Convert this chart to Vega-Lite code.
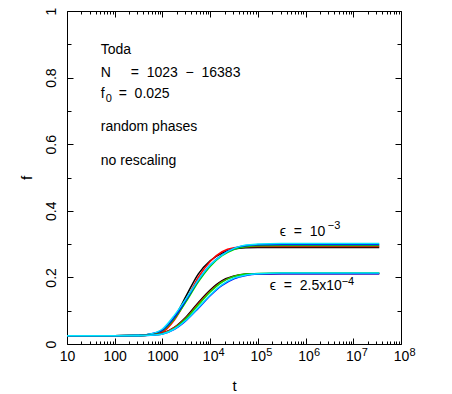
{
  "$schema": "https://vega.github.io/schema/vega-lite/v6.json",
  "autosize": "none",
  "width": 334,
  "height": 333,
  "padding": {"left": 67, "top": 11, "right": 51, "bottom": 50},
  "background": "white",
  "config": {
    "view": {"stroke": null},
    "font": "Liberation Sans",
    "axis": {
      "domainColor": "black",
      "domainWidth": 1,
      "tickColor": "black",
      "tickWidth": 1,
      "grid": false,
      "labelFont": "Liberation Sans",
      "labelFontSize": 14,
      "labelColor": "black",
      "titleFont": "Liberation Sans",
      "titleFontSize": 15,
      "titleFontWeight": "normal",
      "titleColor": "black",
      "labelOverlap": false,
      "labelFlush": false
    }
  },
  "layer": [
    {
      "data": {
        "values": [
          {"t":10,"f":0.025,"s":"k1"},{"t":100,"f":0.025,"s":"k1"},{"t":316,"f":0.026,"s":"k1"},{"t":562,"f":0.029,"s":"k1"},{"t":1000,"f":0.040,"s":"k1"},{"t":1778,"f":0.080,"s":"k1"},{"t":3162,"f":0.145,"s":"k1"},{"t":5623,"f":0.210,"s":"k1"},{"t":10000,"f":0.250,"s":"k1"},{"t":17783,"f":0.273,"s":"k1"},{"t":31623,"f":0.285,"s":"k1"},{"t":56234,"f":0.289,"s":"k1"},{"t":100000,"f":0.290,"s":"k1"},{"t":316228,"f":0.290,"s":"k1"},{"t":1000000,"f":0.290,"s":"k1"},{"t":35000000,"f":0.290,"s":"k1"},
          {"t":10,"f":0.025,"s":"r1"},{"t":100,"f":0.025,"s":"r1"},{"t":316,"f":0.026,"s":"r1"},{"t":562,"f":0.028,"s":"r1"},{"t":1000,"f":0.036,"s":"r1"},{"t":1778,"f":0.072,"s":"r1"},{"t":3162,"f":0.132,"s":"r1"},{"t":5623,"f":0.200,"s":"r1"},{"t":10000,"f":0.248,"s":"r1"},{"t":17783,"f":0.277,"s":"r1"},{"t":31623,"f":0.289,"s":"r1"},{"t":56234,"f":0.292,"s":"r1"},{"t":100000,"f":0.293,"s":"r1"},{"t":316228,"f":0.293,"s":"r1"},{"t":1000000,"f":0.293,"s":"r1"},{"t":35000000,"f":0.293,"s":"r1"},
          {"t":10,"f":0.025,"s":"g1"},{"t":100,"f":0.025,"s":"g1"},{"t":316,"f":0.026,"s":"g1"},{"t":562,"f":0.029,"s":"g1"},{"t":1000,"f":0.040,"s":"g1"},{"t":1778,"f":0.076,"s":"g1"},{"t":3162,"f":0.128,"s":"g1"},{"t":5623,"f":0.186,"s":"g1"},{"t":10000,"f":0.233,"s":"g1"},{"t":17783,"f":0.265,"s":"g1"},{"t":31623,"f":0.284,"s":"g1"},{"t":56234,"f":0.292,"s":"g1"},{"t":100000,"f":0.295,"s":"g1"},{"t":316228,"f":0.296,"s":"g1"},{"t":1000000,"f":0.296,"s":"g1"},{"t":35000000,"f":0.296,"s":"g1"},
          {"t":10,"f":0.025,"s":"b1"},{"t":100,"f":0.025,"s":"b1"},{"t":316,"f":0.026,"s":"b1"},{"t":562,"f":0.030,"s":"b1"},{"t":1000,"f":0.042,"s":"b1"},{"t":1778,"f":0.080,"s":"b1"},{"t":3162,"f":0.133,"s":"b1"},{"t":5623,"f":0.191,"s":"b1"},{"t":10000,"f":0.237,"s":"b1"},{"t":17783,"f":0.268,"s":"b1"},{"t":31623,"f":0.287,"s":"b1"},{"t":56234,"f":0.295,"s":"b1"},{"t":100000,"f":0.298,"s":"b1"},{"t":316228,"f":0.299,"s":"b1"},{"t":1000000,"f":0.299,"s":"b1"},{"t":35000000,"f":0.299,"s":"b1"},
          {"t":10,"f":0.025,"s":"c1"},{"t":100,"f":0.025,"s":"c1"},{"t":316,"f":0.026,"s":"c1"},{"t":562,"f":0.030,"s":"c1"},{"t":1000,"f":0.045,"s":"c1"},{"t":1778,"f":0.086,"s":"c1"},{"t":3162,"f":0.137,"s":"c1"},{"t":5623,"f":0.192,"s":"c1"},{"t":10000,"f":0.237,"s":"c1"},{"t":17783,"f":0.267,"s":"c1"},{"t":31623,"f":0.287,"s":"c1"},{"t":56234,"f":0.297,"s":"c1"},{"t":100000,"f":0.300,"s":"c1"},{"t":316228,"f":0.302,"s":"c1"},{"t":1000000,"f":0.302,"s":"c1"},{"t":35000000,"f":0.302,"s":"c1"},
          {"t":10,"f":0.025,"s":"k2"},{"t":100,"f":0.025,"s":"k2"},{"t":316,"f":0.025,"s":"k2"},{"t":562,"f":0.027,"s":"k2"},{"t":1000,"f":0.032,"s":"k2"},{"t":1778,"f":0.050,"s":"k2"},{"t":3162,"f":0.082,"s":"k2"},{"t":5623,"f":0.124,"s":"k2"},{"t":10000,"f":0.162,"s":"k2"},{"t":17783,"f":0.190,"s":"k2"},{"t":31623,"f":0.204,"s":"k2"},{"t":56234,"f":0.210,"s":"k2"},{"t":100000,"f":0.211,"s":"k2"},{"t":316228,"f":0.212,"s":"k2"},{"t":1000000,"f":0.212,"s":"k2"},{"t":35000000,"f":0.212,"s":"k2"},
          {"t":10,"f":0.025,"s":"r2"},{"t":100,"f":0.025,"s":"r2"},{"t":316,"f":0.025,"s":"r2"},{"t":562,"f":0.027,"s":"r2"},{"t":1000,"f":0.032,"s":"r2"},{"t":1778,"f":0.049,"s":"r2"},{"t":3162,"f":0.079,"s":"r2"},{"t":5623,"f":0.120,"s":"r2"},{"t":10000,"f":0.158,"s":"r2"},{"t":17783,"f":0.187,"s":"r2"},{"t":31623,"f":0.203,"s":"r2"},{"t":56234,"f":0.209,"s":"r2"},{"t":100000,"f":0.211,"s":"r2"},{"t":316228,"f":0.212,"s":"r2"},{"t":1000000,"f":0.212,"s":"r2"},{"t":35000000,"f":0.212,"s":"r2"},
          {"t":10,"f":0.025,"s":"g2"},{"t":100,"f":0.025,"s":"g2"},{"t":316,"f":0.025,"s":"g2"},{"t":562,"f":0.027,"s":"g2"},{"t":1000,"f":0.031,"s":"g2"},{"t":1778,"f":0.047,"s":"g2"},{"t":3162,"f":0.077,"s":"g2"},{"t":5623,"f":0.117,"s":"g2"},{"t":10000,"f":0.156,"s":"g2"},{"t":17783,"f":0.186,"s":"g2"},{"t":31623,"f":0.203,"s":"g2"},{"t":56234,"f":0.210,"s":"g2"},{"t":100000,"f":0.212,"s":"g2"},{"t":316228,"f":0.213,"s":"g2"},{"t":1000000,"f":0.213,"s":"g2"},{"t":35000000,"f":0.213,"s":"g2"},
          {"t":10,"f":0.025,"s":"b2"},{"t":100,"f":0.025,"s":"b2"},{"t":316,"f":0.025,"s":"b2"},{"t":562,"f":0.026,"s":"b2"},{"t":1000,"f":0.030,"s":"b2"},{"t":1778,"f":0.044,"s":"b2"},{"t":3162,"f":0.071,"s":"b2"},{"t":5623,"f":0.107,"s":"b2"},{"t":10000,"f":0.145,"s":"b2"},{"t":17783,"f":0.176,"s":"b2"},{"t":31623,"f":0.196,"s":"b2"},{"t":56234,"f":0.206,"s":"b2"},{"t":100000,"f":0.210,"s":"b2"},{"t":316228,"f":0.211,"s":"b2"},{"t":1000000,"f":0.211,"s":"b2"},{"t":35000000,"f":0.211,"s":"b2"},
          {"t":10,"f":0.025,"s":"c2"},{"t":100,"f":0.025,"s":"c2"},{"t":316,"f":0.025,"s":"c2"},{"t":562,"f":0.026,"s":"c2"},{"t":1000,"f":0.030,"s":"c2"},{"t":1778,"f":0.045,"s":"c2"},{"t":3162,"f":0.072,"s":"c2"},{"t":5623,"f":0.109,"s":"c2"},{"t":10000,"f":0.147,"s":"c2"},{"t":17783,"f":0.178,"s":"c2"},{"t":31623,"f":0.198,"s":"c2"},{"t":56234,"f":0.207,"s":"c2"},{"t":100000,"f":0.211,"s":"c2"},{"t":316228,"f":0.213,"s":"c2"},{"t":1000000,"f":0.213,"s":"c2"},{"t":35000000,"f":0.213,"s":"c2"}
        ]
      },
      "mark": {"type": "line", "interpolate": "monotone", "strokeWidth": 1.5, "clip": true},
      "encoding": {
        "x": {
          "field": "t", "type": "quantitative",
          "scale": {"type": "log", "domain": [10, 100000000], "nice": false},
          "axis": {
            "orient": "bottom",
            "title": "t",
            "titlePadding": 12,
            "values": [10,20,30,40,50,60,70,80,90,100,200,300,400,500,600,700,800,900,1000,2000,3000,4000,5000,6000,7000,8000,9000,10000,20000,30000,40000,50000,60000,70000,80000,90000,100000,200000,300000,400000,500000,600000,700000,800000,900000,1000000,2000000,3000000,4000000,5000000,6000000,7000000,8000000,9000000,10000000,20000000,30000000,40000000,50000000,60000000,70000000,80000000,90000000,100000000],
            "labelExpr": "abs(log(datum.value)/LN10 - round(log(datum.value)/LN10)) < 0.001 ? (datum.value < 5000 ? format(datum.value, 'd') : '10') : ''",
            "tickSize": {"condition": {"test": "abs(log(datum.value)/LN10 - round(log(datum.value)/LN10)) < 0.001", "value": -6}, "value": -3},
            "labelPadding": 11
          }
        },
        "y": {
          "field": "f", "type": "quantitative",
          "scale": {"domain": [0, 1], "nice": false},
          "axis": {
            "orient": "left",
            "title": "f",
            "titlePadding": 8,
            "values": [0,0.1,0.2,0.3,0.4,0.5,0.6,0.7,0.8,0.9,1],
            "labelExpr": "round(datum.value*10) % 2 == 0 ? (datum.value == 0 ? '0' : (datum.value == 1 ? '1' : format(datum.value, '.1f'))) : ''",
            "tickSize": {"condition": {"test": "round(datum.value*10) % 2 == 0", "value": -6}, "value": -4},
            "labelAngle": -90,
            "labelAlign": "center",
            "labelBaseline": "bottom",
            "labelPadding": 15
          }
        },
        "color": {
          "field": "s", "type": "nominal", "legend": null,
          "scale": {
            "domain": ["k1","r1","g1","b1","c1","k2","r2","g2","b2","c2"],
            "range": ["#000000","#ff0000","#00e000","#0000ff","#00e5ff","#000000","#ff0000","#00e000","#0000ff","#00e5ff"]
          }
        }
      }
    },
    {
      "data": {
        "values": [
          {"t": 51, "f": 0.884, "label": "Toda"},
          {"t": 51, "f": 0.815, "label": "N"},
          {"t": 216, "f": 0.815, "label": "=\u00a0\u00a01023\u00a0\u00a0−\u00a0\u00a016383"},
          {"t": 51, "f": 0.752, "label": "f"},
          {"t": 121, "f": 0.752, "label": "=\u00a0\u00a00.025"},
          {"t": 51, "f": 0.652, "label": "random phases"},
          {"t": 51, "f": 0.550, "label": "no rescaling"},
          {"t": 288000, "f": 0.335, "label": "ϵ\u00a0\u00a0=\u00a0\u00a010"},
          {"t": 178000, "f": 0.175, "label": "ϵ\u00a0\u00a0=\u00a0\u00a02.5x10"}
        ]
      },
      "mark": {"type": "text", "align": "left", "baseline": "middle", "fontSize": 14, "font": "Liberation Sans", "color": "black"},
      "encoding": {
        "x": {
          "field": "t", "type": "quantitative",
          "axis": {
            "orient": "top", "title": null, "labels": false,
            "values": [10,20,30,40,50,60,70,80,90,100,200,300,400,500,600,700,800,900,1000,2000,3000,4000,5000,6000,7000,8000,9000,10000,20000,30000,40000,50000,60000,70000,80000,90000,100000,200000,300000,400000,500000,600000,700000,800000,900000,1000000,2000000,3000000,4000000,5000000,6000000,7000000,8000000,9000000,10000000,20000000,30000000,40000000,50000000,60000000,70000000,80000000,90000000,100000000],
            "tickSize": {"condition": {"test": "abs(log(datum.value)/LN10 - round(log(datum.value)/LN10)) < 0.001", "value": -6}, "value": -3}
          }
        },
        "y": {
          "field": "f", "type": "quantitative",
          "axis": {
            "orient": "right", "title": null, "labels": false,
            "values": [0,0.1,0.2,0.3,0.4,0.5,0.6,0.7,0.8,0.9,1],
            "tickSize": {"condition": {"test": "round(datum.value*10) % 2 == 0", "value": -6}, "value": -4}
          }
        },
        "text": {"field": "label"}
      }
    },
    {
      "data": {
        "values": [
          {"t": 64.7, "f": 0.737, "label": "0"},
          {"t": 2920000, "f": 0.355, "label": "−3"},
          {"t": 5700000, "f": 0.186, "label": "−4"}
        ]
      },
      "mark": {"type": "text", "align": "left", "baseline": "middle", "fontSize": 11, "font": "Liberation Sans", "color": "black"},
      "encoding": {
        "x": {
          "field": "t", "type": "quantitative",
          "axis": {
            "orient": "bottom", "title": null, "domain": false, "ticks": false,
            "values": [10000,100000,1000000,10000000,100000000],
            "labelExpr": "'' + round(log(datum.value)/LN10)",
            "labelFontSize": 11,
            "labelPadding": 2,
            "labelOffset": 11
          }
        },
        "y": {"field": "f", "type": "quantitative", "axis": null},
        "text": {"field": "label"}
      }
    }
  ],
  "resolve": {"axis": {"x": "independent", "y": "independent"}}
}
